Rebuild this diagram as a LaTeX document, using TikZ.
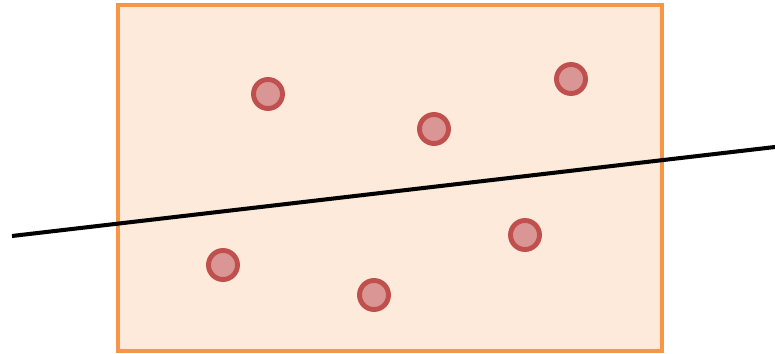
\documentclass[tikz,border=0pt]{standalone}
\usepackage{tikz}

\definecolor{boxline}{HTML}{F79646}
\definecolor{boxfill}{HTML}{FDEADA}
\definecolor{dotline}{HTML}{C0504D}
\definecolor{dotfill}{HTML}{D99694}

\tikzset{
  dot/.style={circle, draw=dotline, fill=dotfill, line width=2.8pt, minimum size=0.58cm, inner sep=0pt},
  region/.style={draw=boxline, fill=boxfill, line width=2.3pt}
}

\begin{document}
\begin{tikzpicture}[x=0.02cm, y=-0.02cm]
\useasboundingbox (0,0) rectangle (775,354);
\draw[region] (118,5) rectangle (662,351);
\coordinate (left) at (12,236);
\coordinate (right) at (775,147);
\draw[line width=2.3pt] (left) -- (right);
% points above the line
\foreach \x/\y/\name in {268/94/p1, 434/129/p2, 571/79/p3}
  \node[dot] (\name) at (\x,\y) {};
% points below the line
\foreach \x/\y/\name in {223/265/q1, 374/295/q2, 525/235/q3}
  \node[dot] (\name) at (\x,\y) {};
\end{tikzpicture}
\end{document}
